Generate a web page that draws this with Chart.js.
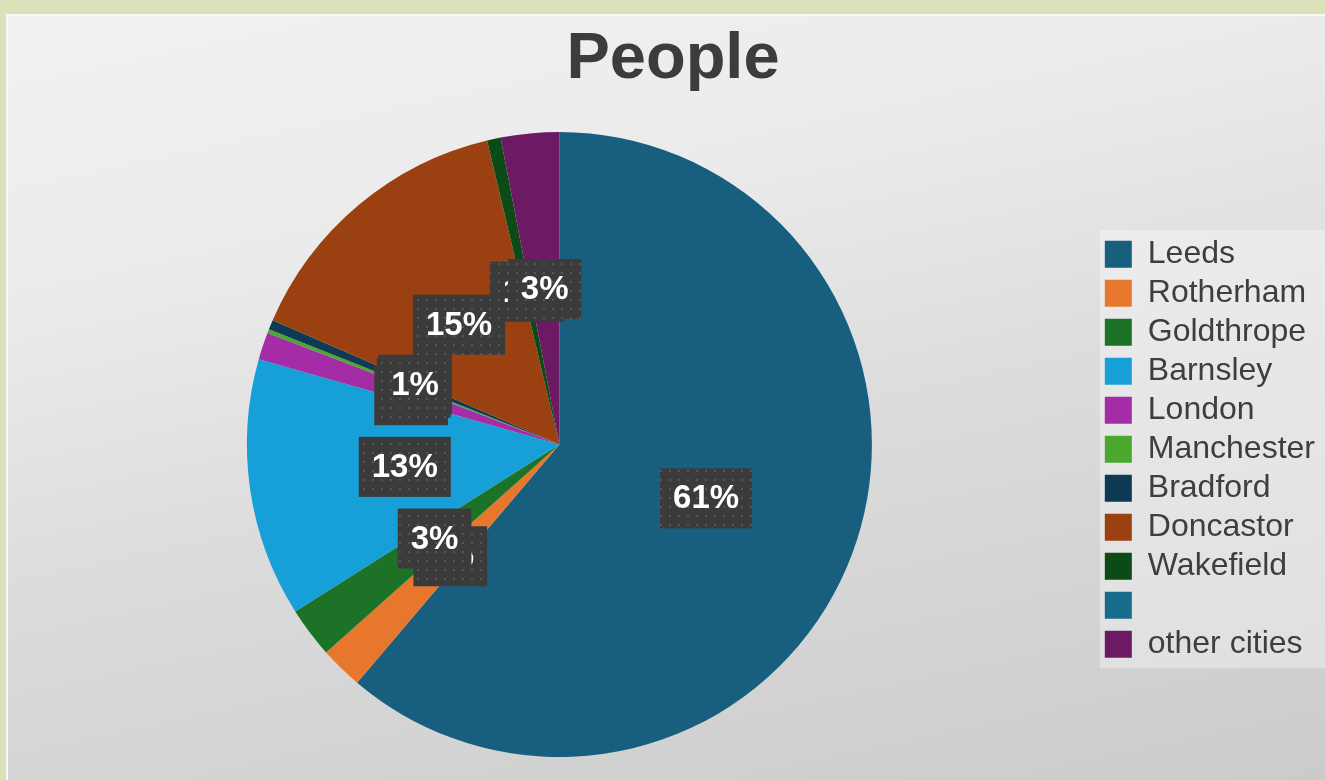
<!DOCTYPE html>
<html>
<head>
<meta charset="utf-8">
<title>People</title>
<script src="https://cdn.jsdelivr.net/npm/chart.js@4.4.1/dist/chart.umd.min.js"></script>
<style>
  html, body { margin: 0; padding: 0; }
  body { width: 1325px; height: 780px; overflow: hidden; background: #dbe2b9; position: relative; }
  #panel {
    position: absolute; left: 6px; top: 14px; width: 1317px; height: 764px;
    border-left: 2px solid #f8f8f8; border-top: 2px solid #f8f8f8;
    background: linear-gradient(168deg, #f1f1f1 0%, #ebebeb 28%, #dcdcdc 55%, #cbcbcb 100%);
  }
  #wrap { position: absolute; left: 0; top: 0; width: 1317px; height: 764px; }
</style>
</head>
<body>
<div id="panel">
  <div id="wrap"><canvas id="peopleChart"></canvas></div>
</div>
<script>
// data (percent of people)
const cities = ["Leeds", "Rotherham", "Goldthrope", "Barnsley", "London", "Manchester",
                "Bradford", "Doncastor", "Wakefield", "", "other cities"];
const people = [60.9, 2.2, 2.6, 13.3, 1.4, 0.2, 0.5, 14.7, 0.7, 0, 3.0];
const cityColours = ["#185e7f", "#e8772e", "#1c7328", "#17a0d8", "#a42ca6", "#4aa82f",
                     "#0f3a55", "#9b4010", "#0c4a16", "#196b8d", "#6b1a63"];

/* ===== dotted label box pattern ===== */
function dotPattern(ctx) {
  const c = document.createElement("canvas");
  c.width = 9; c.height = 9;
  const p = c.getContext("2d");
  p.fillStyle = "#3b3b3b";
  p.fillRect(0, 0, 9, 9);
  p.fillStyle = "#565656";
  p.fillRect(4, 4, 2, 2);
  return ctx.createPattern(c, "repeat");
}

/* ===== percent labels on slices ===== */
const sliceLabels = {
  id: "sliceLabels",
  afterDatasetsDraw(chart) {
    const ctx = chart.ctx;
    const meta = chart.getDatasetMeta(0);
    const data = chart.data.datasets[0].data;
    const total = data.reduce((a, b) => a + b, 0);
    const fill = dotPattern(ctx);
    ctx.save();
    ctx.font = "bold 33px 'Liberation Sans', Arial, sans-serif";
    ctx.textAlign = "center";
    ctx.textBaseline = "middle";
    meta.data.forEach((arc, i) => {
      if (!data[i]) return;
      const pos = arc.tooltipPosition();
      const txt = Math.round(data[i] / total * 100) + "%";
      const w = ctx.measureText(txt).width + 26;
      const h = 60;
      ctx.fillStyle = fill;
      ctx.fillRect(pos.x - w / 2, pos.y - h / 2, w, h);
      ctx.fillStyle = "#ffffff";
      ctx.fillText(txt, pos.x, pos.y + 1);
    });
    ctx.restore();
  }
};

/* ===== light box behind the legend ===== */
const legendBack = {
  id: "legendBack",
  beforeDraw(chart) {
    const lg = chart.legend;
    if (!lg || !lg.legendHitBoxes.length) return;
    const boxes = lg.legendHitBoxes;
    const top = boxes[0].top - 8;
    const bottom = boxes[boxes.length - 1].top + boxes[boxes.length - 1].height + 8;
    const ctx = chart.ctx;
    ctx.save();
    ctx.fillStyle = "rgba(255,255,255,0.35)";
    ctx.fillRect(lg.left + 2, top, chart.width - lg.left, bottom - top);
    ctx.restore();
  }
};

const ctx = document.getElementById("peopleChart").getContext("2d");
new Chart(ctx, {
  type: "pie",
  data: {
    labels: cities,
    datasets: [{
      data: people,
      backgroundColor: cityColours,
      borderWidth: 0
    }]
  },
  options: {
    responsive: true,
    maintainAspectRatio: false,
    animation: false,
    layout: { padding: { left: 13, right: 0, top: 0, bottom: 23 } },
    plugins: {
      title: {
        display: true,
        text: "People",
        color: "#3c3c3c",
        font: { family: "'Liberation Sans', Arial, sans-serif", size: 65, weight: "bold" },
        padding: { top: 5, bottom: 33 }
      },
      legend: {
        position: "right",
        title: {
          display: true,
          text: " ",
          font: { size: 12 },
          padding: { top: 0, bottom: 111 }
        },
        labels: {
          color: "#3e3e3e",
          font: { family: "'Liberation Sans', Arial, sans-serif", size: 32 },
          boxWidth: 27,
          boxHeight: 27,
          padding: 7
        }
      },
      tooltip: { enabled: false }
    }
  },
  plugins: [legendBack, sliceLabels]
});
</script>
</body>
</html>
